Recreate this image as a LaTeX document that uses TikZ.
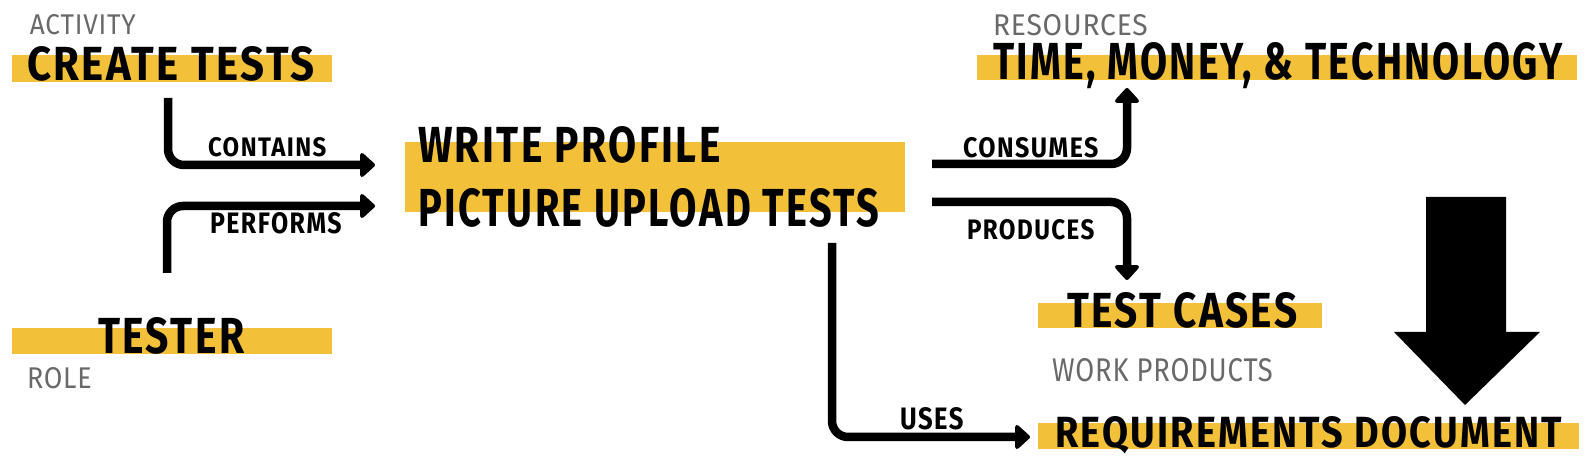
\documentclass[tikz,border=0pt]{standalone}
\usepackage{fontspec}
\setmainfont{Fira Sans}
\newfontfamily\headfont[LetterSpace=6]{Fira Sans}
\newfontfamily\catfont[LetterSpace=3]{Fira Sans}
\usepackage{graphicx}
\usetikzlibrary{arrows.meta,calc,fit}
\definecolor{hl}{RGB}{243,192,58}
\definecolor{lbl}{RGB}{105,105,105}
\newcommand\fitt[3]{\resizebox{\dimexpr #1pt/2\relax}{\dimexpr #2pt/2\relax}{#3}}
\newcommand\hd[1]{{\headfont\bfseries #1\kern-0.06em}}
\newcommand\ct[1]{{\catfont #1\kern-0.03em}}
\begin{document}
\begin{tikzpicture}[x=0.5pt,y=-0.5pt,
  bar/.style={fill=hl, draw=none, inner sep=0pt, outer sep=0pt},
  txt/.style={anchor=base west, inner sep=0pt, outer sep=0pt},
  gray label/.style={txt, text=lbl},
  conn/.style={line width=4.25pt, rounded corners=8pt,
    -{Triangle[length=8pt,width=14pt,round]}},
  bigarrow/.style={fill=black},
]
\useasboundingbox (0,0) rectangle (1587,474);
\fill[white] (0,0) rectangle (1587,474);

% bars
\node[bar, fit={(12,55) (332,82)}] (ctbar) {};
\node[bar, fit={(12,328) (332,354)}] (tsbar) {};
\node[bar, fit={(405,142) (905,212)}] (mainbar) {};
\node[bar, fit={(977,55) (1577,80)}] (timebar) {};
\node[bar, fit={(1038,303) (1322,328)}] (tcbar) {};
\node[bar, fit={(1038,423) (1579,449)}] (rqbar) {};

% category labels
\node[gray label] (activity) at (30,35) {\fitt{105}{20}{\ct{ACTIVITY}}};
\node[gray label] (role) at (27,389) {\fitt{64}{21}{\ct{ROLE}}};
\node[gray label] (resources) at (993,36) {\fitt{154}{21}{\ct{RESOURCES}}};
\node[gray label] (workprod) at (1052,382) {\fitt{220}{23}{\ct{WORK PRODUCTS}}};

% main texts
\node[txt] (create) at (27,81) {\fitt{285}{34}{\hd{CREATE TESTS}}};
\node[txt] (tester) at (98,354) {\fitt{144}{36}{\hd{TESTER}}};
\node[txt] (mainA) at (418,163) {\fitt{300}{36}{\hd{WRITE PROFILE}}};
\node[txt] (mainB) at (418,227) {\fitt{459}{38}{\hd{PICTURE UPLOAD TESTS}}};
\node[txt] (time) at (993,80) {\fitt{567}{37}{\hd{TIME, MONEY, \& TECHNOLOGY}}};
\node[txt] (testcases) at (1067,328) {\fitt{228}{35}{\hd{TEST CASES}}};
\node[txt] (reqdoc) at (1055,448) {\fitt{505}{31}{\hd{REQUIREMENTS DOCUMENT}}};

% connectors
\draw[conn] ($(ctbar.south west)+(156,16)$) |- ($(mainbar.west)+(-30,-12)$);
\draw[conn] ($(tsbar.north west)+(155,-55)$) |- ($(mainbar.west)+(-30,29)$);
\draw[conn] ($(mainbar.east)+(27,-13)$) -| ($(timebar.south west)+(150,8)$);
\draw[conn] ($(mainbar.east)+(27,25)$) -| ($(tcbar.north west)+(89,-23)$);
\draw[conn] ($(mainbar.south)+(177,31)$) |- ($(rqbar.west)+(-8,1)$);

% connector labels
\node[txt] (contains) at (208,157) {\fitt{117}{19}{\hd{CONTAINS}}};
\node[txt] (performs) at (210,234) {\fitt{130}{21}{\hd{PERFORMS}}};
\node[txt] (consumes) at (963,158) {\fitt{134}{20}{\hd{CONSUMES}}};
\node[txt] (produces) at (967,240) {\fitt{126}{20}{\hd{PRODUCES}}};
\node[txt] (uses) at (900,430) {\fitt{62}{22}{\hd{USES}}};

% big arrow
\fill[bigarrow] (1426,197) -- (1506,197) -- (1506,332) -- (1540,332)
  -- (1465,405) -- (1394,332) -- (1426,332) -- cycle;
\end{tikzpicture}
\end{document}
